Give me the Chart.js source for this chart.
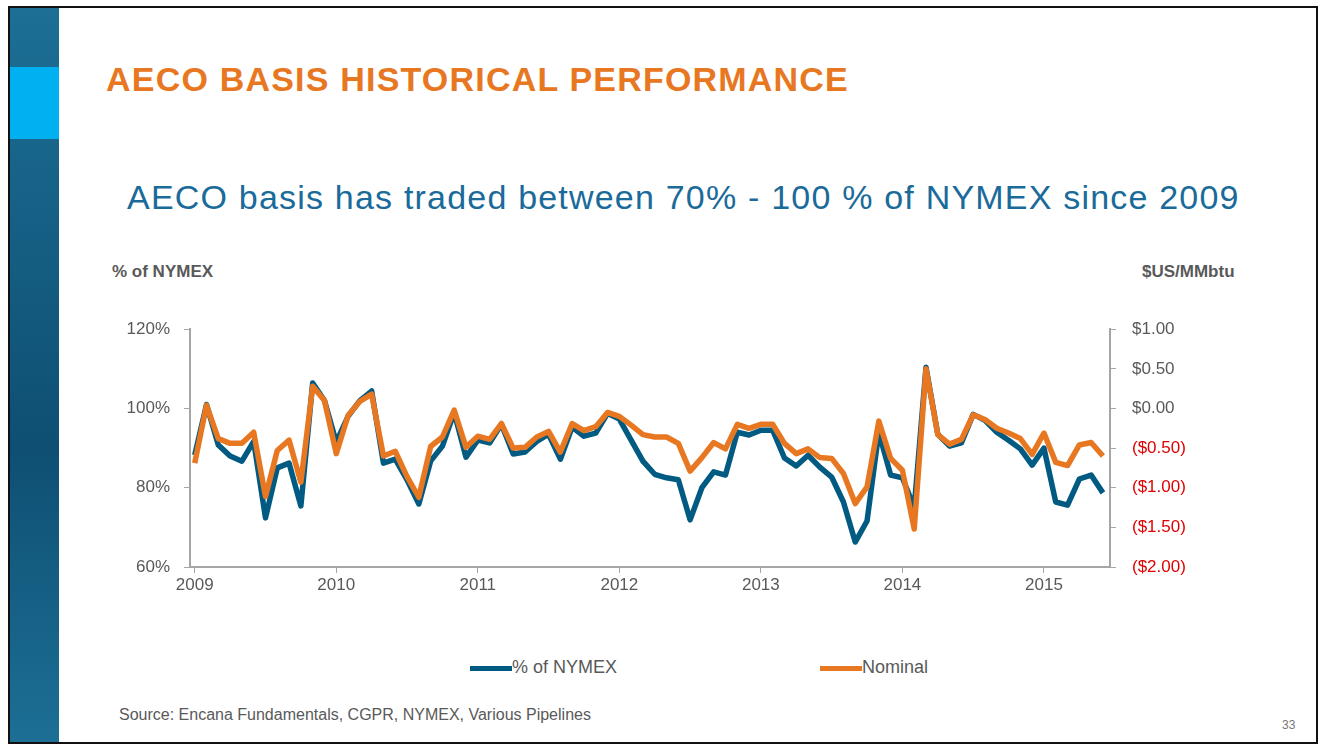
<!DOCTYPE html>
<html>
<head>
<meta charset="utf-8">
<script src="https://cdn.jsdelivr.net/npm/chart.js@4/dist/chart.umd.min.js"></script>
<style>
  body { margin: 0; width: 1324px; height: 750px; background: #fff; font-family: "Liberation Sans", Arial, sans-serif; overflow: hidden; }
  #slide { position: absolute; left: 8px; top: 6px; width: 1306px; height: 734px; border: 2px solid #111; background: #fff; }
  #strip { position: absolute; left: 0; top: 0; width: 49px; height: 734px; background: linear-gradient(180deg, #1d6f95, #0e4f73 60%, #1d6f95); }
  #sq { position: absolute; left: 0; top: 59px; width: 49px; height: 72px; background: #00b0f0; }
  .t { position: absolute; white-space: nowrap; }
  #chartbox { position: absolute; left: 100px; top: 303px; width: 1150px; height: 297px; }
</style>
</head>
<body>
<div id="slide">
  <div id="strip"></div><div id="sq"></div>
</div>
<div class="t" style="left:106px;top:60px;font-size:34px;letter-spacing:1.2px;font-weight:bold;color:#e87722;">AECO BASIS HISTORICAL PERFORMANCE</div>
<div class="t" style="left:127px;top:178px;font-size:34px;letter-spacing:1.2px;color:#1a6a9a;">AECO basis has traded between 70% - 100 % of NYMEX since 2009</div>
<div class="t" style="left:112px;top:262px;font-size:17px;font-weight:bold;color:#595959;">% of NYMEX</div>
<div class="t" style="left:1142px;top:262px;font-size:17px;font-weight:bold;color:#595959;">$US/MMbtu</div>
<div id="chartbox"><canvas id="chart"></canvas></div>
<div class="t" style="left:470px;top:657px;font-size:18px;color:#595959;"><span style="display:inline-block;width:42px;height:5px;background:#005a82;vertical-align:middle;"></span>% of NYMEX</div>
<div class="t" style="left:820px;top:657px;font-size:18px;color:#595959;"><span style="display:inline-block;width:42px;height:5px;background:#e87722;vertical-align:middle;"></span>Nominal</div>
<div class="t" style="left:119px;top:706px;font-size:16px;color:#595959;">Source: Encana Fundamentals, CGPR, NYMEX, Various Pipelines</div>
<div class="t" style="left:1282px;top:718px;font-size:12px;color:#777;">33</div>
<script>
// monthly, Jan 2009 .. Jun 2015
const yearLabels = ['2009', '2010', '2011', '2012', '2013', '2014', '2015'];
const pctNymex = [
  88.2, 101, 90.8, 88, 86.7, 91.7, 72.4, 85, 86.2, 75.4, 106.4, 102,
  91.5, 98, 102, 104.4, 86.2, 87.2, 82, 75.9, 86.7, 90.5, 99, 87.7,
  92, 91.3, 96, 88.5, 89, 91.7, 93.5, 87.2, 95.3, 93, 93.8, 98.8,
  97.3, 92, 86.7, 83.4, 82.5, 82, 71.9, 80, 84, 83.2, 94, 93.3,
  94.5, 94.5, 87.5, 85.5, 88.2, 85.2, 82.7, 76.4, 66.3, 71.6, 94, 83.2,
  82.5, 75, 110.4, 93.5, 90.5, 91.3, 98.5, 97, 94, 92, 89.8, 85.7,
  90, 76.4, 75.6, 82.2, 83.2, 78.7
];
const nominal = [
  -0.69, 0.04, -0.38, -0.44, -0.44, -0.30, -1.11, -0.53, -0.40, -0.93, 0.28, 0.10,
  -0.57, -0.09, 0.09, 0.18, -0.60, -0.54, -0.86, -1.12, -0.48, -0.36, -0.02, -0.49,
  -0.35, -0.39, -0.19, -0.50, -0.49, -0.36, -0.29, -0.55, -0.19, -0.28, -0.23, -0.05,
  -0.10, -0.21, -0.33, -0.36, -0.36, -0.44, -0.79, -0.62, -0.43, -0.51, -0.20, -0.25,
  -0.20, -0.20, -0.44, -0.57, -0.51, -0.62, -0.63, -0.82, -1.20, -0.99, -0.16, -0.63,
  -0.78, -1.52, 0.50, -0.33, -0.45, -0.39, -0.08, -0.14, -0.25, -0.31, -0.38, -0.58,
  -0.31, -0.68, -0.72, -0.46, -0.43, -0.60
];

const font = { family: '"Liberation Sans", Arial, sans-serif', size: 17 };
const grey = '#595959';
const axisGrid = { drawOnChartArea: false, color: '#a6a6a6', tickLength: 6 };
const money = v => v < 0 ? '($' + Math.abs(v).toFixed(2) + ')' : '$' + v.toFixed(2);

new Chart(document.getElementById('chart'), {
  type: 'line',
  data: {
    datasets: [
      { label: 'Nominal', data: nominal.map((y, i) => ({ x: i, y })), yAxisID: 'y2',
        borderColor: '#e87722', borderWidth: 5.5, borderJoinStyle: 'round', pointRadius: 0, tension: 0, order: 1 },
      { label: '% of NYMEX', data: pctNymex.map((y, i) => ({ x: i, y })), yAxisID: 'y',
        borderColor: '#005a82', borderWidth: 5.5, borderJoinStyle: 'round', pointRadius: 0, tension: 0, order: 2 }
    ]
  },
  options: {
    responsive: true, maintainAspectRatio: false, animation: false,
    layout: { padding: { top: 12, left: 0, right: 0, bottom: 0 } },
    plugins: { legend: { display: false }, tooltip: { enabled: false } },
    scales: {
      x: {
        type: 'linear', min: -0.4, max: 77.6,
        afterBuildTicks: s => { s.ticks = yearLabels.map((_, i) => ({ value: i * 12 })); },
        afterFit: s => { s.height = 33; },
        ticks: { color: grey, font, padding: 2, callback: v => yearLabels[v / 12] },
        grid: axisGrid, border: { color: '#a6a6a6', width: 2 }
      },
      y: {
        position: 'left', min: 60, max: 120,
        afterFit: s => { s.width = 90; },
        ticks: { stepSize: 20, color: grey, font, padding: 14, callback: v => v + '%' },
        grid: axisGrid, border: { color: '#a6a6a6', width: 2 }
      },
      y2: {
        position: 'right', min: -2, max: 1,
        afterFit: s => { s.width = 140; },
        ticks: { stepSize: 0.5, font, padding: 16, callback: money,
                 color: c => c.tick && c.tick.value < 0 ? '#e00000' : grey },
        grid: axisGrid, border: { color: '#a6a6a6', width: 2 }
      }
    }
  }
});
</script>
</body>
</html>
